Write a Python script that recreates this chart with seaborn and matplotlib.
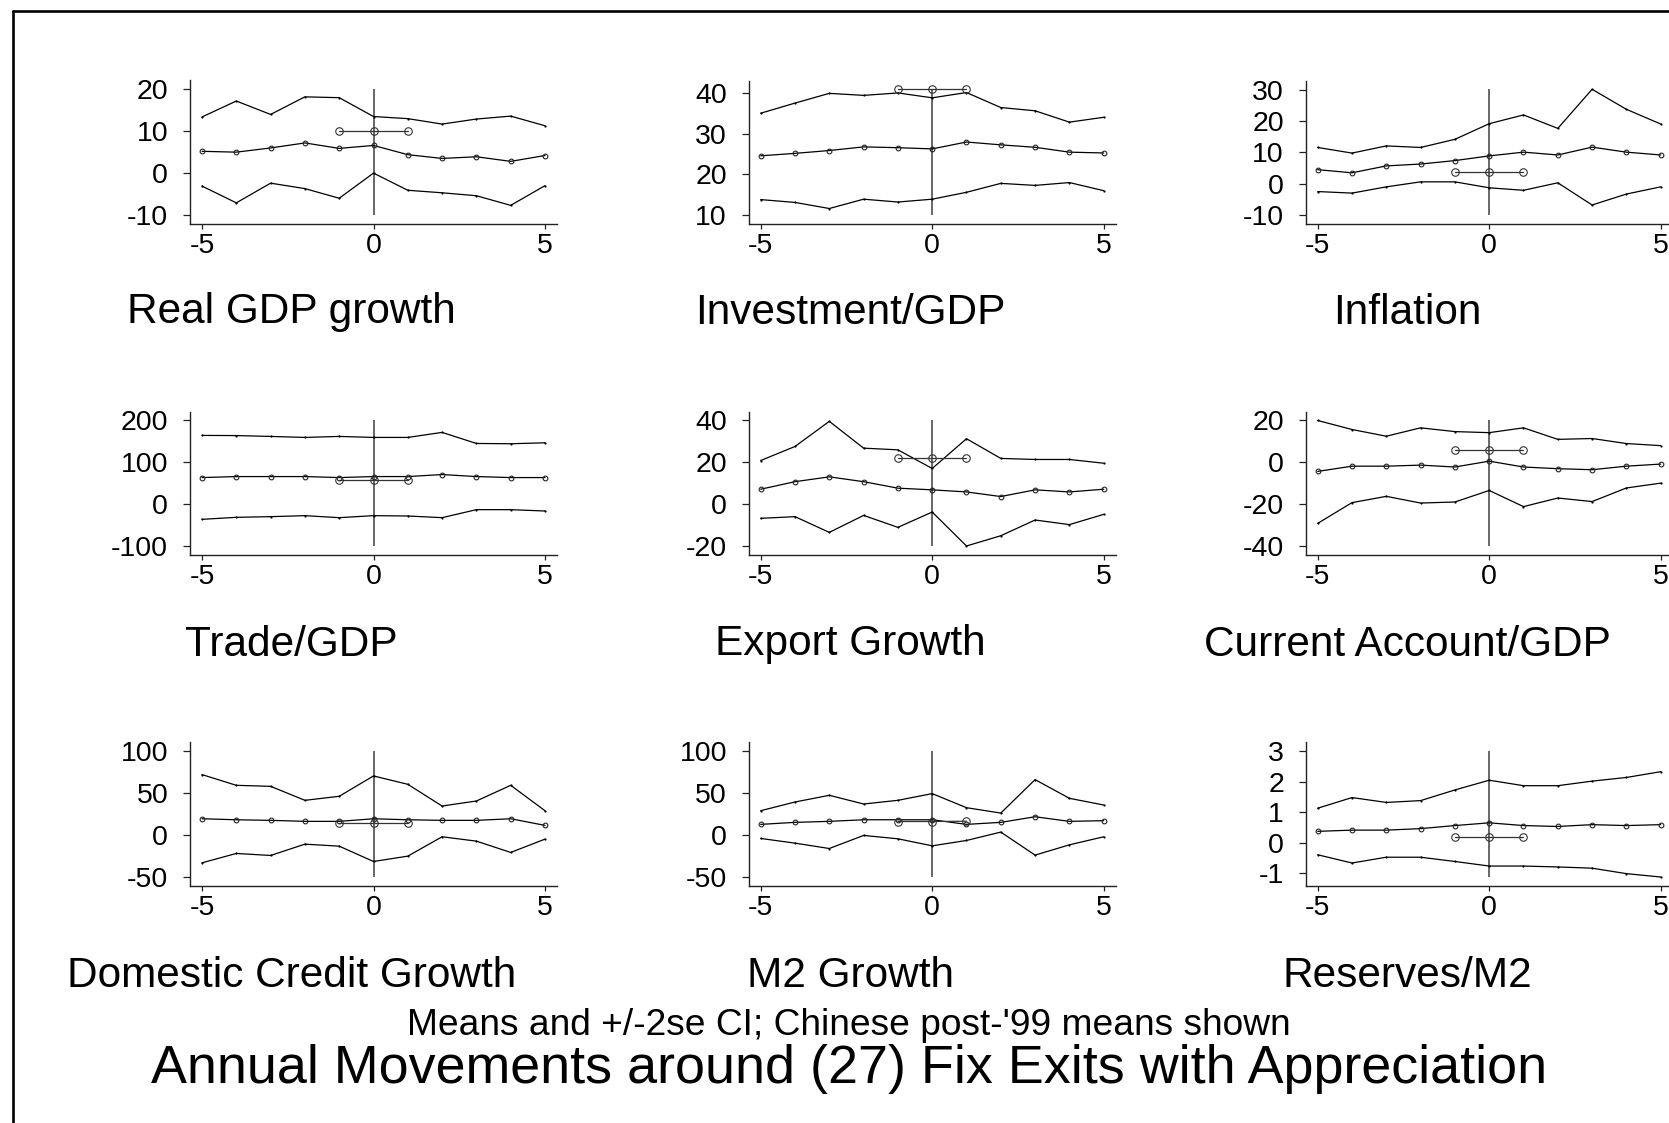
import matplotlib
matplotlib.use("Agg")
import matplotlib.pyplot as plt
import seaborn as sns
from matplotlib.lines import Line2D

# ---------------- data ----------------
years = [-5, -4, -3, -2, -1, 0, 1, 2, 3, 4, 5]
china_years = [-1, 0, 1]

titles = ["Real GDP growth", "Investment/GDP", "Inflation",
          "Trade/GDP", "Export Growth", "Current Account/GDP",
          "Domestic Credit Growth", "M2 Growth", "Reserves/M2"]

gdp_upper = [13.4, 17.2, 14.0, 18.2, 18.0, 13.5, 13.0, 11.7, 12.9, 13.6, 11.3]
gdp_mean = [5.2, 5.0, 6.0, 7.2, 5.9, 6.6, 4.4, 3.5, 3.9, 2.8, 4.2]
gdp_lower = [-3.1, -7.1, -2.4, -3.7, -6.0, 0.0, -4.1, -4.7, -5.4, -7.7, -3.0]
gdp_china = [10.0, 10.0, 10.0]
gdp_ticks = [-10, 0, 10, 20]

inv_upper = [35.1, 37.6, 40.0, 39.5, 40.1, 38.9, 40.2, 36.5, 35.7, 32.9, 34.1]
inv_mean = [24.6, 25.2, 25.9, 26.8, 26.6, 26.3, 28.0, 27.3, 26.7, 25.5, 25.3]
inv_lower = [13.8, 13.1, 11.6, 13.9, 13.2, 13.9, 15.6, 17.8, 17.3, 18.0, 16.0]
inv_china = [41.0, 41.0, 41.0]
inv_ticks = [10, 20, 30, 40]

infl_upper = [11.6, 9.8, 12.1, 11.6, 14.2, 19.2, 22.0, 17.7, 30.2, 23.8, 19.1]
infl_mean = [4.5, 3.5, 5.7, 6.3, 7.4, 8.9, 10.1, 9.2, 11.7, 10.1, 9.2]
infl_lower = [-2.5, -3.0, -1.0, 0.6, 0.6, -1.3, -2.1, 0.3, -6.8, -3.3, -1.0]
infl_china = [3.8, 3.8, 3.8]
infl_ticks = [-10, 0, 10, 20, 30]

trade_upper = [164.4, 164.0, 162.0, 159.6, 162.0, 159.6, 159.6, 171.6, 145.2, 144.5, 146.8]
trade_mean = [63.8, 66.2, 66.2, 66.2, 63.8, 66.2, 66.2, 71.0, 66.2, 63.8, 63.8]
trade_lower = [-35.9, -31.1, -29.5, -27.1, -31.9, -27.1, -27.9, -31.9, -12.8, -12.8, -16.0]
trade_china = [59.0, 59.0, 59.0]
trade_ticks = [-100, 0, 100, 200]

exp_upper = [20.9, 27.6, 39.6, 26.8, 26.0, 17.1, 31.3, 21.9, 21.4, 21.4, 19.6]
exp_mean = [7.2, 10.8, 13.1, 10.8, 7.7, 6.9, 5.9, 3.7, 6.9, 5.9, 7.2]
exp_lower = [-6.7, -5.9, -13.4, -5.3, -11.0, -3.7, -19.9, -15.0, -7.5, -9.7, -4.8]
exp_china = [22.3, 22.3, 22.3]
exp_ticks = [-20, 0, 20, 40]

ca_upper = [20.0, 15.7, 12.5, 16.5, 14.7, 14.2, 16.5, 11.0, 11.4, 9.0, 8.0]
ca_mean = [-4.3, -1.8, -1.8, -1.3, -2.2, 0.6, -2.2, -3.0, -3.5, -1.8, -0.8]
ca_lower = [-29.1, -19.2, -16.2, -19.4, -18.9, -13.4, -21.1, -17.0, -18.7, -12.2, -9.9]
ca_china = [5.9, 5.9, 5.9]
ca_ticks = [-40, -20, 0, 20]

dc_upper = [72.2, 59.4, 58.2, 41.5, 46.3, 70.6, 60.6, 34.7, 40.7, 59.4, 29.1]
dc_mean = [19.5, 18.3, 17.6, 16.4, 16.4, 19.5, 18.3, 17.6, 17.6, 19.5, 11.6]
dc_lower = [-33.1, -21.9, -24.3, -10.8, -13.2, -31.5, -25.1, -2.0, -7.2, -20.7, -4.8]
dc_china = [14.8, 14.8, 14.8]
dc_ticks = [-50, 0, 50, 100]

m2_upper = [29.1, 39.5, 47.5, 37.1, 41.5, 49.5, 32.7, 26.3, 66.2, 43.9, 35.9]
m2_mean = [12.8, 15.2, 16.4, 18.3, 18.3, 18.3, 12.8, 15.2, 21.9, 16.4, 17.2]
m2_lower = [-4.0, -9.6, -16.0, -0.4, -4.4, -12.8, -6.4, 3.6, -23.9, -11.6, -2.0]
m2_china = [16.2, 16.2, 16.6]
m2_ticks = [-50, 0, 50, 100]

res_upper = [1.13, 1.48, 1.32, 1.38, 1.73, 2.05, 1.87, 1.87, 2.02, 2.14, 2.33]
res_mean = [0.37, 0.41, 0.41, 0.46, 0.56, 0.65, 0.56, 0.53, 0.59, 0.56, 0.59]
res_lower = [-0.40, -0.67, -0.48, -0.48, -0.62, -0.77, -0.77, -0.80, -0.84, -1.02, -1.13]
res_china = [0.19, 0.19, 0.19]
res_ticks = [-1, 0, 1, 2, 3]

x_ticks = [-5, 0, 5]

subtitle = "Means and +/-2se CI; Chinese post-'99 means shown"
main_title = "Annual Movements around (27) Fix Exits with Appreciation"

panels = [
    (gdp_upper, gdp_mean, gdp_lower, gdp_china, gdp_ticks),
    (inv_upper, inv_mean, inv_lower, inv_china, inv_ticks),
    (infl_upper, infl_mean, infl_lower, infl_china, infl_ticks),
    (trade_upper, trade_mean, trade_lower, trade_china, trade_ticks),
    (exp_upper, exp_mean, exp_lower, exp_china, exp_ticks),
    (ca_upper, ca_mean, ca_lower, ca_china, ca_ticks),
    (dc_upper, dc_mean, dc_lower, dc_china, dc_ticks),
    (m2_upper, m2_mean, m2_lower, m2_china, m2_ticks),
    (res_upper, res_mean, res_lower, res_china, res_ticks),
]

# ---------------- style ----------------
sns.set_theme(style="ticks")
plt.rcParams["font.family"] = ["Liberation Sans", "DejaVu Sans"]

W, H = 1669, 1123
fig = plt.figure(figsize=(W / 100, H / 100), dpi=100)
fig.patch.set_facecolor("white")

col_left = [190.0, 748.7, 1305.7]
row_top = [80.5, 411.7, 742.5]
ax_w, ax_h = 367.0, 143.3
XLIM = (-5.35, 5.35)
row_title_baseline = [323.5, 655.5, 987.0]
title_offset = 82.0


def rect(left, top, w, h):
    return [left / W, 1 - (top + h) / H, w / W, h / H]


for i, (up, mn, lo, ch, yt) in enumerate(panels):
    r, c = divmod(i, 3)
    ax = fig.add_axes(rect(col_left[c], row_top[r], ax_w, ax_h))
    ax.set_facecolor("white")

    lo_v = min(yt[0], min(lo), min(mn), min(ch))
    hi_v = max(yt[-1], max(up), max(mn), max(ch))
    m = 0.07 * (hi_v - lo_v)
    ax.set_ylim(lo_v - m, hi_v + m)
    ax.set_xlim(*XLIM)

    ax.vlines(0, lo_v, hi_v, color="#5c5c5c", lw=1.3, zorder=1)

    for series in (up, lo):
        sns.lineplot(x=years, y=series, ax=ax, color="black", lw=0.9,
                     marker="o", markersize=1.6, markeredgewidth=0,
                     markeredgecolor="black", markerfacecolor="black",
                     zorder=3)
    sns.lineplot(x=years, y=mn, ax=ax, color="black", lw=0.9,
                 marker="o", markersize=3.4, markerfacecolor="none",
                 markeredgecolor="#222222", markeredgewidth=0.8, zorder=3)
    sns.lineplot(x=china_years, y=ch, ax=ax, color="#333333", lw=0.9,
                 marker="o", markersize=5.4, markerfacecolor="none",
                 markeredgecolor="#333333", markeredgewidth=0.8, zorder=4)

    ax.set_yticks(yt)
    ax.set_yticklabels([str(v) for v in yt])
    ax.set_xticks(x_ticks)
    ax.set_xticklabels([str(v) for v in x_ticks])
    ax.set_xlabel("")
    ax.set_ylabel("")
    ax.grid(False)
    for s in ("top", "right"):
        ax.spines[s].set_visible(False)
    for s in ("left", "bottom"):
        ax.spines[s].set_color("#222222")
        ax.spines[s].set_linewidth(1.0)
    ax.tick_params(axis="y", direction="out", length=5.2, width=0.9,
                   color="#222222", pad=10.5, labelsize=20.5, labelcolor="black")
    ax.tick_params(axis="x", direction="out", length=3.8, width=0.9,
                   color="#222222", pad=3.0, labelsize=20.5, labelcolor="black")

    zero_px = col_left[c] + ax_w * (0 - XLIM[0]) / (XLIM[1] - XLIM[0])
    fig.text((zero_px - title_offset) / W, 1 - row_title_baseline[r] / H,
             titles[i], ha="center", va="baseline", fontsize=30.5, color="black")

fig.text(849 / W, 1 - 1035 / H, subtitle, ha="center", va="baseline",
         fontsize=26.7, color="black")
fig.text(849 / W, 1 - 1083.5 / H, main_title, ha="center", va="baseline",
         fontsize=38.8, color="black")

# outer frame (left and top edges)
fig.add_artist(Line2D([12.5 / W, 12.5 / W], [0, 1 - 10.5 / H],
                      transform=fig.transFigure, color="black", lw=1.9))
fig.add_artist(Line2D([12.5 / W, 1], [1 - 10.5 / H, 1 - 10.5 / H],
                      transform=fig.transFigure, color="black", lw=1.9))

fig.savefig("out.png", dpi=100, facecolor="white")
